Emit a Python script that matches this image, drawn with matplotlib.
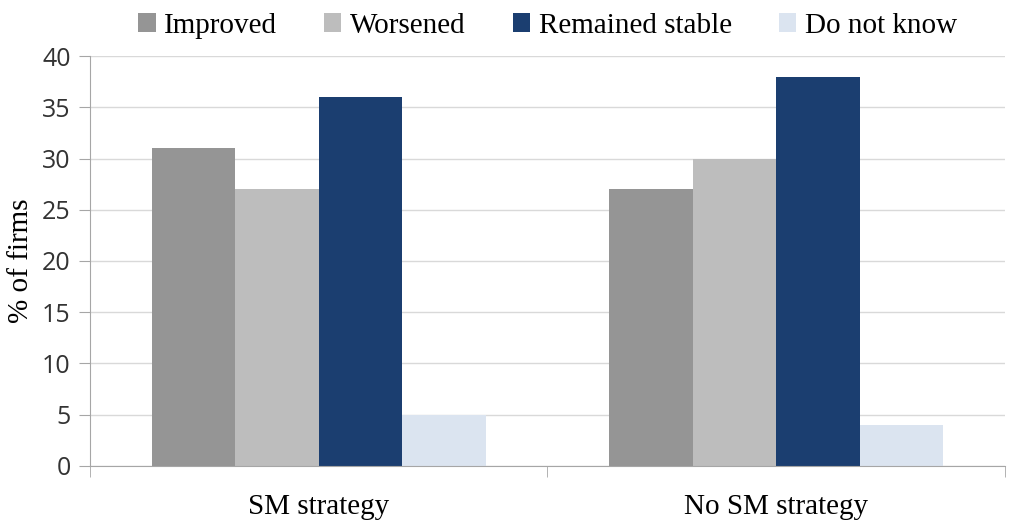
import matplotlib.pyplot as plt
import numpy as np

categories = ["SM strategy", "No SM strategy"]
series = ["Improved", "Worsened", "Remained stable", "Do not know"]
improved = [31, 27]
worsened = [27, 30]
remained = [36, 38]
dont_know = [5, 4]
colors = ["#959595", "#bdbdbd", "#1b3e70", "#dbe4f0"]

values = [improved, worsened, remained, dont_know]

fig = plt.figure(figsize=(10.09, 5.22), dpi=100)
ax = fig.add_axes([0.0892, 0.1073, 0.9068, 0.7854])

x = np.arange(len(categories))
width = 0.1825
for i, (name, vals) in enumerate(zip(series, values)):
    ax.bar(x + (i - 1.5) * width, vals, width, color=colors[i], label=name, zorder=2)

ax.set_xlim(-0.5, len(categories) - 0.5)
ax.set_ylim(0, 40)
ax.set_yticks(np.arange(0, 41, 5))
ax.yaxis.grid(True, color="#d9d9d9", linewidth=1, zorder=0)
ax.set_axisbelow(True)

for s in ["top", "right"]:
    ax.spines[s].set_visible(False)
for s in ["left", "bottom"]:
    ax.spines[s].set_color("#a6a6a6")

# category labels centred, tick marks at category boundaries
ax.set_xticks(x)
ax.set_xticklabels(categories, family="Liberation Serif", fontsize=21)
ax.tick_params(axis="x", length=0, pad=20)
ax.set_xticks(np.arange(-0.5, len(categories), 1), minor=True)
ax.tick_params(axis="x", which="minor", length=8, color="#a6a6a6")

ax.tick_params(axis="y", length=8, color="#a6a6a6", labelsize=18, pad=6)
for lbl in ax.get_yticklabels():
    lbl.set_family("Open Sans")
    lbl.set_color("#333333")

ax.set_ylabel("% of firms", family="Liberation Serif", fontsize=21, labelpad=6)

ax.legend(loc="upper center", bbox_to_anchor=(0.5, 1.17), ncols=4, frameon=False,
          prop={"family": "Liberation Serif", "size": 21},
          handlelength=0.6, handleheight=0.6, handletextpad=0.3, columnspacing=1.6)

plt.savefig("out.png")
